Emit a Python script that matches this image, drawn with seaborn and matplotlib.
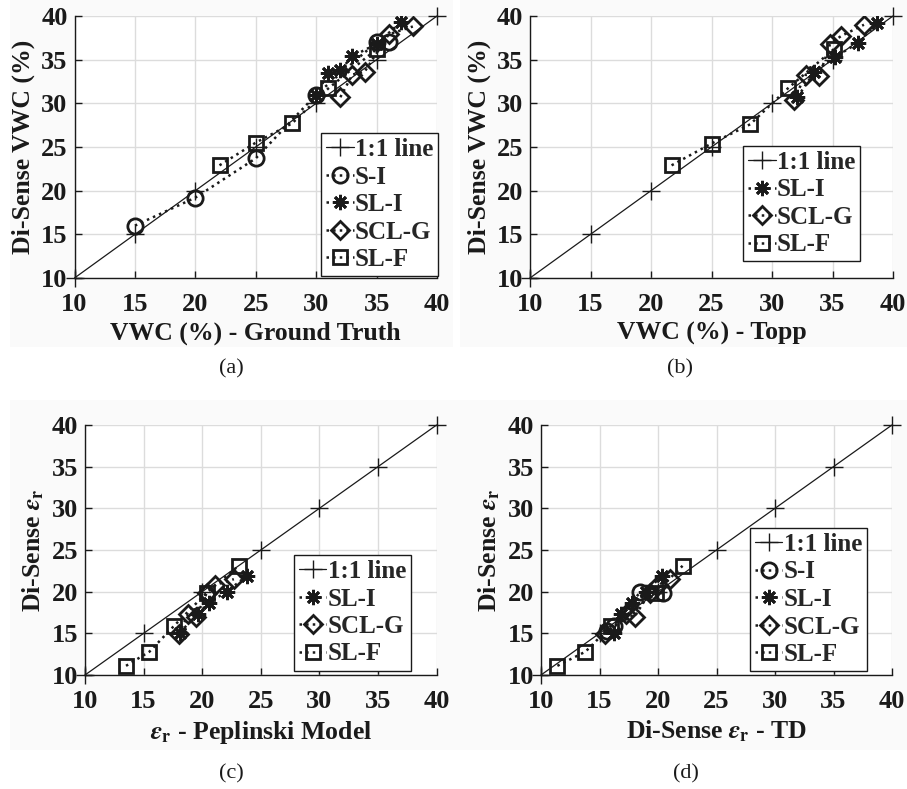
import matplotlib
matplotlib.use("Agg")
import matplotlib.pyplot as plt
import seaborn as sns
from matplotlib.patches import Rectangle

# ---------------- data ----------------
ticks = [10, 15, 20, 25, 30, 35, 40]
one_to_one = [10, 15, 20, 25, 30, 35, 40]

# (a) Di-Sense VWC vs ground truth VWC
a_si_x = [15, 20, 25, 30, 35, 36]
a_si_y = [16.0, 19.2, 23.7, 31.0, 37.0, 37.0]
a_sli_x = [30, 31, 32, 33, 35, 37]
a_sli_y = [30.9, 33.5, 33.8, 35.4, 36.8, 39.3]
a_sclg_x = [32, 33, 34, 36, 38]
a_sclg_y = [30.7, 33.3, 33.6, 37.9, 38.8]
a_slf_x = [22, 25, 28, 31, 35]
a_slf_y = [22.9, 25.5, 27.7, 31.7, 36.2]

# (b) Di-Sense VWC vs Topp VWC
b_sli_x = [32.1, 33.5, 35.2, 37.1, 38.7]
b_sli_y = [30.7, 33.6, 35.3, 36.9, 39.2]
b_sclg_x = [31.8, 32.8, 33.9, 34.8, 35.7, 37.6]
b_sclg_y = [30.4, 33.3, 33.1, 36.8, 37.7, 39.0]
b_slf_x = [21.7, 25.0, 28.2, 31.3, 35.1]
b_slf_y = [22.9, 25.4, 27.6, 31.7, 36.2]

# (c) Di-Sense eps_r vs Peplinski model
c_sli_x = [18.1, 19.6, 20.6, 22.1, 23.8]
c_sli_y = [15.1, 17.3, 18.7, 20.0, 21.9]
c_sclg_x = [18.0, 18.8, 19.5, 20.4, 21.1, 22.7]
c_sclg_y = [14.9, 17.3, 17.0, 19.9, 20.8, 21.5]
c_slf_x = [13.5, 15.5, 17.6, 20.4, 23.1]
c_slf_y = [11.1, 12.8, 15.9, 19.9, 23.1]

# (d) Di-Sense eps_r vs TD eps_r
d_si_x = [15.6, 16.2, 18.5, 20.4]
d_si_y = [15.3, 15.9, 20.0, 19.8]
d_sli_x = [16.2, 16.8, 17.8, 19.0, 20.3]
d_sli_y = [15.1, 17.3, 18.7, 20.0, 21.9]
d_sclg_x = [15.5, 17.3, 18.0, 19.3, 20.0, 21.0]
d_sclg_y = [14.9, 17.3, 17.0, 19.9, 20.8, 21.5]
d_slf_x = [11.4, 13.8, 16.0, 19.8, 22.1]
d_slf_y = [11.1, 12.8, 15.9, 19.9, 23.1]

# ---------------- style ----------------
sns.set_theme(style="whitegrid")
plt.rcParams['font.family'] = ['Liberation Serif', 'DejaVu Serif']
plt.rcParams['font.weight'] = 'bold'
plt.rcParams['axes.labelweight'] = 'bold'
plt.rcParams['mathtext.fontset'] = 'stix'

MARK = {
    "S-I": dict(marker='o', ms=11),
    "SL-I": dict(marker=(8, 2, 0), ms=11),
    "SCL-G": dict(marker='D', ms=9),
    "SL-F": dict(marker='s', ms=9.5),
}

W, H = 907, 789
fig = plt.figure(figsize=(W / 100, H / 100), dpi=100)
fig.patch.set_facecolor('white')

# very faint background of each sub-figure
for (x0, y0, x1, y1) in [(10, 0, 453, 347), (460, 0, 907, 347),
                         (10, 400, 453, 750), (453, 400, 907, 750)]:
    fig.patches.append(Rectangle((x0 / W, 1 - y1 / H), (x1 - x0) / W, (y1 - y0) / H,
                                 transform=fig.transFigure, facecolor='#fafafa',
                                 edgecolor='none', zorder=-10))


def make_ax(l, t, r, b):
    return fig.add_axes([l / W, 1 - b / H, (r - l) / W, (b - t) / H])


def panel(ax, series, xlabel, ylabel, anchor):
    ax.set_facecolor('white')
    sns.lineplot(x=one_to_one, y=one_to_one, ax=ax, color='k', lw=0.9,
                 marker='+', ms=13, mew=1.0, mec='k', mfc='k', label='1:1 line',
                 sort=False, estimator=None, clip_on=False, zorder=3)
    for name, xs, ys in series:
        st = MARK[name]
        sns.lineplot(x=xs, y=ys, ax=ax, color='k', linestyle=':', lw=1.8,
                     marker=st['marker'], ms=st['ms'], mfc='none', mec='k',
                     mew=2.0, label=name, sort=False, estimator=None, zorder=4)
    ax.set_xlim(10, 40)
    ax.set_ylim(10, 40)
    ax.set_xticks(ticks)
    ax.set_yticks(ticks)
    ax.grid(True, color='#dcdcdc', lw=1.0)
    for s in ['top', 'right']:
        ax.spines[s].set_visible(False)
    for s in ['left', 'bottom']:
        ax.spines[s].set_visible(True)
        ax.spines[s].set_color('k')
        ax.spines[s].set_linewidth(1.0)
    ax.tick_params(direction='in', length=5, width=1, bottom=True, left=True,
                   labelsize=19, colors='k')
    ax.tick_params(axis='x', pad=11)
    ax.tick_params(axis='y', pad=5)
    ax.set_xlabel(xlabel, fontsize=18.5, fontweight='bold', labelpad=4, color='k')
    ax.set_ylabel(ylabel, fontsize=18.5, fontweight='bold', labelpad=4, color='k')
    leg = ax.legend(loc='upper left', bbox_to_anchor=anchor, frameon=True,
                    fancybox=False, edgecolor='k', framealpha=1, facecolor='white',
                    fontsize=18, handlelength=1.1, handletextpad=0.05,
                    labelspacing=0.18, borderpad=0.2, borderaxespad=0)
    leg.get_frame().set_linewidth(1.0)
    leg.set_zorder(10)


ax_a = make_ax(74.5, 16, 437, 278)
panel(ax_a, [("S-I", a_si_x, a_si_y), ("SL-I", a_sli_x, a_sli_y),
             ("SCL-G", a_sclg_x, a_sclg_y), ("SL-F", a_slf_x, a_slf_y)],
      'VWC (%) - Ground Truth', 'Di-Sense VWC (%)', (0.68, 0.553))

ax_b = make_ax(530, 16, 893, 278)
panel(ax_b, [("SL-I", b_sli_x, b_sli_y), ("SCL-G", b_sclg_x, b_sclg_y),
             ("SL-F", b_slf_x, b_slf_y)],
      'VWC (%) - Topp', 'Di-Sense VWC (%)', (0.587, 0.504))

ax_c = make_ax(85, 425, 436.6, 675)
panel(ax_c, [("SL-I", c_sli_x, c_sli_y), ("SCL-G", c_sclg_x, c_sclg_y),
             ("SL-F", c_slf_x, c_slf_y)],
      r'$\epsilon_{\mathbf{r}}$ - Peplinski Model', r'Di-Sense $\epsilon_{\mathbf{r}}$',
      (0.594, 0.48))

ax_d = make_ax(541, 425, 892, 675)
panel(ax_d, [("S-I", d_si_x, d_si_y), ("SL-I", d_sli_x, d_sli_y),
             ("SCL-G", d_sclg_x, d_sclg_y), ("SL-F", d_slf_x, d_slf_y)],
      r'Di-Sense $\epsilon_{\mathbf{r}}$ - TD', r'Di-Sense $\epsilon_{\mathbf{r}}$',
      (0.595, 0.588))

for txt, x, y in [('(a)', 231, 369), ('(b)', 680, 369), ('(c)', 231, 774), ('(d)', 686, 774)]:
    fig.text(x / W, 1 - y / H, txt, ha='center', va='center', fontsize=16,
             fontweight='normal', color='k')

fig.savefig('out.png', dpi=100)
